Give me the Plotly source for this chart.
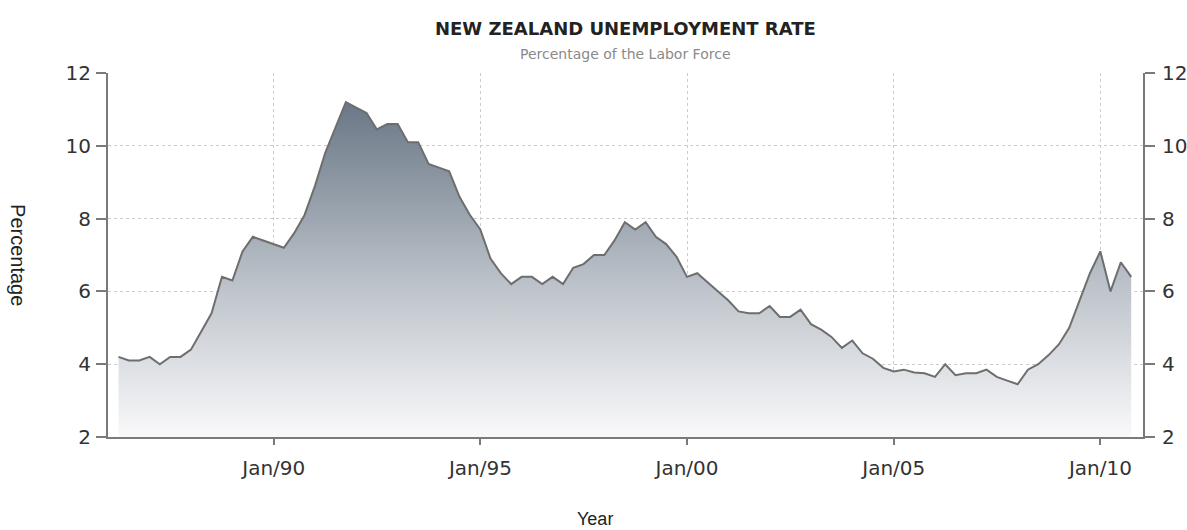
import pandas as pd
import plotly.graph_objects as go

# Quarterly unemployment rate, Mar 1986 .. Sep 2010
start_quarter = "1986-03-31"
rate = [
    4.2, 4.1, 4.1, 4.2, 4.0, 4.2, 4.2, 4.4, 4.9, 5.4,   # 1986-1988
    6.4, 6.3, 7.1, 7.5, 7.4, 7.3, 7.2, 7.6, 8.1, 8.9,   # 1988-1991
    9.8, 10.5, 11.2, 11.05, 10.9, 10.45, 10.6, 10.6, 10.1, 10.1,  # 1991-1993
    9.5, 9.4, 9.3, 8.6, 8.1, 7.7, 6.9, 6.5, 6.2, 6.4,   # 1993-1996
    6.4, 6.2, 6.4, 6.2, 6.65, 6.75, 7.0, 7.0, 7.4, 7.9, # 1996-1998
    7.7, 7.9, 7.5, 7.3, 6.95, 6.4, 6.5, 6.25, 6.0, 5.75,  # 1998-2001
    5.45, 5.4, 5.4, 5.6, 5.3, 5.3, 5.5, 5.1, 4.95, 4.75,  # 2001-2003
    4.45, 4.65, 4.3, 4.15, 3.9, 3.8, 3.85, 3.77, 3.75, 3.65,  # 2003-2006
    4.0, 3.7, 3.75, 3.75, 3.85, 3.65, 3.55, 3.45, 3.85, 4.0,  # 2006-2008
    4.25, 4.55, 5.0, 5.75, 6.5, 7.1, 6.0, 6.8, 6.4,     # 2008-2010
]
dates = pd.date_range(start_quarter, periods=len(rate), freq=pd.offsets.QuarterEnd())

tick_dates = ["1990-01-01", "1995-01-01", "2000-01-01", "2005-01-01", "2010-01-01"]
tick_labels = ["Jan/90", "Jan/95", "Jan/00", "Jan/05", "Jan/10"]
y_ticks = [2, 4, 6, 8, 10, 12]

title_text = "NEW ZEALAND UNEMPLOYMENT RATE"
subtitle_text = "Percentage of the Labor Force"

TICK_FONT = dict(family="DejaVu Sans, sans-serif", size=20, color="#333333")
AXIS_COLOR = "#7a7a7a"
GRID_COLOR = "#cccccc"

fig = go.Figure()
fig.add_trace(go.Scatter(
    x=dates, y=rate, mode="lines",
    line=dict(color="#6e6e6e", width=2),
    fill="tozeroy",
    fillgradient=dict(
        type="vertical", start=2, stop=11.2,
        colorscale=[[0, "#f9f9fa"], [0.22, "#dcdfe3"], [0.435, "#bfc5cc"],
                    [0.65, "#9ea7b1"], [0.87, "#7d8996"], [1, "#6a7787"]],
    ),
    hoverinfo="x+y", showlegend=False,
))
# invisible copy on the right axis so it is drawn
fig.add_trace(go.Scatter(
    x=dates, y=rate, yaxis="y2", mode="lines",
    line=dict(width=0, color="rgba(0,0,0,0)"),
    hoverinfo="skip", showlegend=False,
))

x_range = ["1985-12-28", "2011-01-12"]
fig.update_layout(
    width=1187, height=530,
    margin=dict(l=108, r=44, t=73, b=93),
    paper_bgcolor="white", plot_bgcolor="white",
    xaxis=dict(
        type="date", range=x_range, automargin=False,
        tickvals=tick_dates, ticktext=tick_labels,
        tickfont=TICK_FONT, ticklabelstandoff=6,
        ticks="outside", ticklen=6, tickwidth=2, tickcolor=AXIS_COLOR,
        showline=True, linecolor=AXIS_COLOR, linewidth=2,
        showgrid=True, gridcolor=GRID_COLOR, griddash="dot", gridwidth=1,
        zeroline=False,
    ),
    yaxis=dict(
        range=[2, 12], tickvals=y_ticks, automargin=False,
        tickfont=TICK_FONT, ticklabelstandoff=1,
        ticks="outside", ticklen=10, tickwidth=2, tickcolor=AXIS_COLOR,
        showline=True, linecolor=AXIS_COLOR, linewidth=2,
        showgrid=True, gridcolor=GRID_COLOR, griddash="dot", gridwidth=1,
        zeroline=False,
    ),
    yaxis2=dict(
        range=[2, 12], tickvals=y_ticks, overlaying="y", side="right",
        automargin=False,
        tickfont=TICK_FONT, ticklabelstandoff=3,
        ticks="outside", ticklen=10, tickwidth=2, tickcolor=AXIS_COLOR,
        showline=True, linecolor=AXIS_COLOR, linewidth=2,
        showgrid=False, zeroline=False,
    ),
    annotations=[
        dict(text="<b>" + title_text + "</b>", xref="paper", yref="paper",
             x=0.5, y=1.121, xanchor="center", yanchor="middle", showarrow=False,
             font=dict(family="DejaVu Sans, sans-serif", size=18, color="#222222")),
        dict(text=subtitle_text, xref="paper", yref="paper",
             x=0.5, y=1.052, xanchor="center", yanchor="middle", showarrow=False,
             font=dict(family="DejaVu Sans, sans-serif", size=14, color="#8a8a8a")),
        dict(text="Year", xref="paper", yref="paper",
             x=0.471, y=-0.225, xanchor="center", yanchor="middle", showarrow=False,
             font=dict(family="Liberation Sans, Arial, sans-serif", size=18, color="#222222")),
        dict(text="Percentage", xref="paper", yref="paper", textangle=90,
             x=-0.087, y=0.5, xanchor="center", yanchor="middle", showarrow=False,
             font=dict(family="Liberation Sans, Arial, sans-serif", size=20, color="#222222")),
    ],
)

fig.write_html(
    "out.html",
    config={"displayModeBar": False},
    post_script="document.body.style.margin='0';document.body.style.overflow='hidden';",
)
